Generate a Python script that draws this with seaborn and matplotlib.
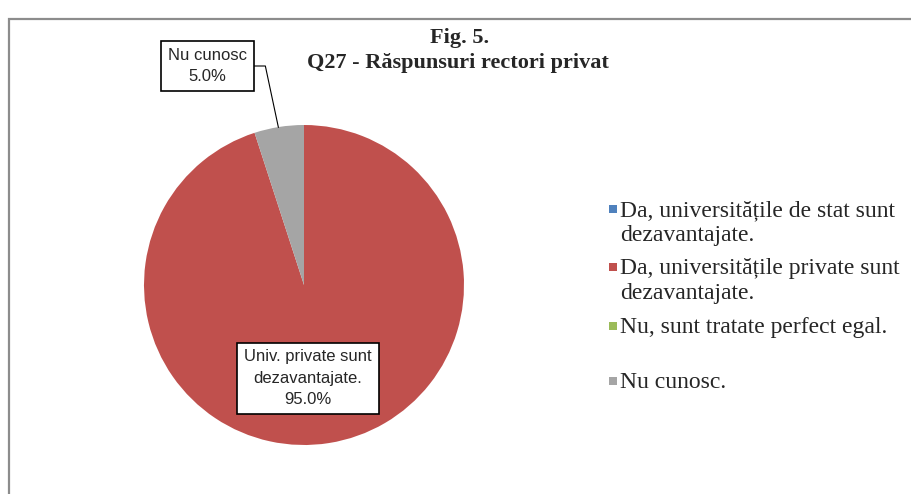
import matplotlib
matplotlib.use("Agg")
import matplotlib.pyplot as plt
from matplotlib.patches import Rectangle
import seaborn as sns

categories = [
    "Da, universitățile de stat sunt\ndezavantajate.",
    "Da, universitățile private sunt\ndezavantajate.",
    "Nu, sunt tratate perfect egal.",
    "Nu cunosc.",
]
shares = [0.0, 95.0, 0.0, 5.0]
colors = ["#4F81BD", "#C0504D", "#9BBB59", "#A5A5A5"]
slice_labels = ["", "Univ. private sunt\ndezavantajate.", "", "Nu cunosc"]

sns.set_style("white")
plt.rcParams["font.family"] = ["Liberation Serif", "DejaVu Serif"]

W, H = 911, 494
fig = plt.figure(figsize=(W / 100, H / 100), dpi=100)

# outer chart frame (cut at right and bottom like the source)
fig.patches.append(Rectangle((9 / W, -0.05), 1.2, 1 - 19 / H + 0.05,
                             transform=fig.transFigure, fill=False,
                             edgecolor="#8C8C8C", linewidth=1.6))

cx, cy, r = 304, 285, 160
ax = fig.add_axes([(cx - r) / W, 1 - (cy + r) / H, 2 * r / W, 2 * r / H])
wedges, _ = ax.pie(shares, colors=colors, startangle=90, counterclock=False,
                   radius=1, wedgeprops=dict(linewidth=0))
ax.set_xlim(-1, 1)
ax.set_ylim(-1, 1)
ax.set_aspect("equal")
ax.axis("off")

box = dict(boxstyle="square,pad=0.42", facecolor="white", edgecolor="black", linewidth=1.2)
lab_font = dict(family="Liberation Sans", fontsize=12, linespacing=1.5)

ax.annotate(f"{slice_labels[3]}\n{shares[3]:.1f}%", xy=(-0.16, 0.985),
            xytext=((207 - cx) / r, (cy - 66) / r), ha="center", va="center",
            bbox=box, annotation_clip=False, **lab_font,
            arrowprops=dict(arrowstyle="-", color="black", lw=0.8, relpos=(1, 0.5),
                            shrinkA=0, shrinkB=0,
                            connectionstyle="angle,angleA=0,angleB=102,rad=0"))

ax.annotate(f"{slice_labels[1]}\n{shares[1]:.1f}%", xy=((308 - cx) / r, (cy - 378) / r),
            ha="center", va="center", bbox=box, annotation_clip=False, **lab_font)

fig.text(460 / W, 1 - 38 / H, "Fig. 5.", ha="center", va="center",
         fontsize=16, fontweight="bold")
fig.text(458 / W, 1 - 63 / H, "Q27 - Răspunsuri rectori privat", ha="center",
         va="center", fontsize=16, fontweight="bold")

# legend: square marker aligned with the first text line of each entry
legend_y = [209, 267, 326, 381]
for lab, col, y in zip(categories, colors, legend_y):
    fig.patches.append(Rectangle((609 / W, 1 - (y + 4) / H), 8 / W, 8 / H,
                                 transform=fig.transFigure, facecolor=col,
                                 edgecolor="none"))
    fig.text(620 / W, 1 - (y - 9) / H, lab, ha="left", va="top",
             fontsize=17, linespacing=1.28)

fig.savefig("out.png", dpi=100)
